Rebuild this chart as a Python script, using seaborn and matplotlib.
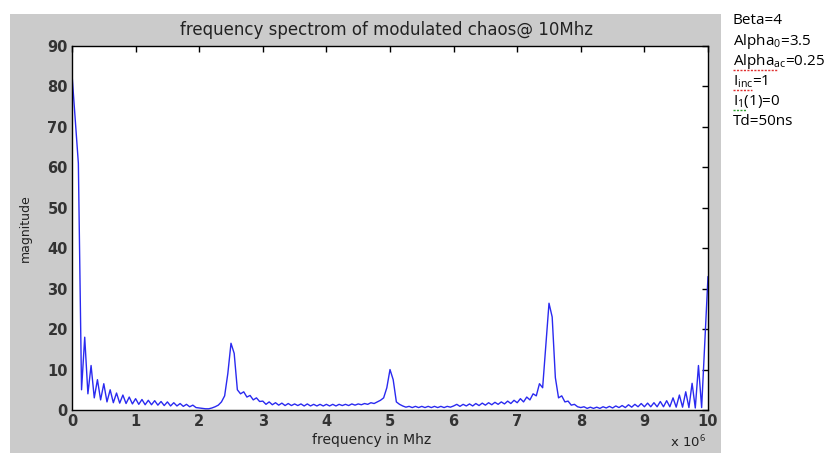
import numpy as np
import pandas as pd
import matplotlib
matplotlib.use("Agg")
import matplotlib.pyplot as plt
import seaborn as sns
from matplotlib.patches import Rectangle
from matplotlib.lines import Line2D

# ---- data (magnitude sampled every 0.05 MHz from 0 to 10 MHz) ----
mag_0_1 = [83, 72, 61, 5, 18, 4, 11, 3, 7.5, 2.5, 6.5, 2, 5, 1.8, 4.2, 1.7, 3.7, 1.6, 3.2, 1.5]
mag_1_2 = [2.8, 1.4, 2.6, 1.3, 2.4, 1.3, 2.3, 1.2, 2.1, 1.1, 2.0, 1.0, 1.8, 1.0, 1.6, 0.9, 1.4, 0.8, 1.2, 0.6]
mag_2_3 = [0.5, 0.4, 0.3, 0.3, 0.5, 0.8, 1.2, 2.0, 3.5, 9, 16.5, 14, 5, 4, 4.5, 3.2, 3.6, 2.5, 3.0, 2.1]
mag_3_4 = [2.2, 1.4, 2.0, 1.3, 1.8, 1.2, 1.7, 1.1, 1.6, 1.1, 1.5, 1.1, 1.5, 1.0, 1.5, 1.0, 1.4, 1.0, 1.4, 1.0]
mag_4_5 = [1.4, 1.0, 1.4, 1.0, 1.4, 1.1, 1.4, 1.1, 1.5, 1.2, 1.5, 1.3, 1.6, 1.4, 1.8, 1.6, 2.0, 2.4, 3.0, 5.5]
mag_5_6 = [10, 7.5, 2.0, 1.4, 1.0, 0.7, 0.9, 0.6, 0.9, 0.6, 0.9, 0.6, 0.9, 0.6, 0.9, 0.6, 0.9, 0.6, 0.9, 0.7]
mag_6_7 = [1.0, 1.4, 0.9, 1.4, 1.0, 1.5, 1.0, 1.6, 1.1, 1.7, 1.2, 1.8, 1.3, 1.9, 1.4, 2.0, 1.5, 2.2, 1.6, 2.4]
mag_7_8 = [1.8, 2.8, 2.0, 3.2, 2.5, 4.0, 3.5, 6.5, 5.5, 16, 26.4, 23, 8, 3.0, 3.5, 2.0, 2.2, 1.2, 1.4, 0.8]
mag_8_9 = [0.6, 0.8, 0.4, 0.7, 0.4, 0.7, 0.4, 0.8, 0.5, 0.9, 0.5, 1.0, 0.6, 1.1, 0.6, 1.3, 0.7, 1.4, 0.8, 1.6]
mag_9_10 = [0.8, 1.7, 0.8, 1.8, 0.8, 2.1, 0.8, 2.3, 0.8, 3.0, 0.7, 3.7, 0.7, 4.5, 0.6, 6.6, 0.5, 11, 0.6, 17, 33]

magnitude = (mag_0_1 + mag_1_2 + mag_2_3 + mag_3_4 + mag_4_5 +
             mag_5_6 + mag_6_7 + mag_7_8 + mag_8_9 + mag_9_10)
freq_step_mhz = 0.05
freq_mhz = np.round(np.arange(len(magnitude)) * freq_step_mhz, 2)

x_ticks = list(range(0, 11))
y_ticks = list(range(0, 91, 10))

title = "frequency spectrom of modulated chaos@ 10Mhz"
x_label = "frequency in Mhz"
y_label = "magnitude"
params = ["Beta=4", "Alpha$_0$=3.5", "Alpha$_{ac}$=0.25", "I$_{inc}$=1", "I$_1$(1)=0", "Td=50ns"]

df = pd.DataFrame({"freq": freq_mhz, "mag": magnitude})

# ---- style ----
sns.set_theme(style="white")
plt.rcParams["font.family"] = ["DejaVu Sans"]
plt.rcParams["mathtext.fontset"] = "custom"
plt.rcParams["mathtext.rm"] = "Open Sans"
plt.rcParams["mathtext.default"] = "rm"

W, H = 832, 453
fig = plt.figure(figsize=(W / 100, H / 100), dpi=100, facecolor="white")
fig.add_artist(Rectangle((10 / W, 0), (721 - 10) / W, (H - 14) / H,
                         transform=fig.transFigure, facecolor="#cbcbcb",
                         edgecolor="none", zorder=0))

ax = fig.add_axes([72 / W, 43 / H, 636 / W, 364 / H])
ax.set_facecolor("white")
sns.lineplot(data=df, x="freq", y="mag", ax=ax, color="#2a2af0",
             linewidth=1.0, estimator=None, sort=False)

ax.set_xlim(0, 10)
ax.set_ylim(0, 90)
ax.set_xticks(x_ticks)
ax.set_yticks(y_ticks)
ax.tick_params(direction="in", length=4, width=1, top=True, right=True,
               colors="black", labelcolor="#333333", labelsize=10.5, pad=3)
for lab in ax.get_xticklabels() + ax.get_yticklabels():
    lab.set_fontweight("bold")
for s in ax.spines.values():
    s.set_color("black")
    s.set_linewidth(1)

ax.set_xlabel(x_label, fontsize=10, color="#222222", va="center", ha="center")
ax.xaxis.set_label_coords((372 - 72) / 636, (410 - 440) / 364)
ax.set_ylabel(y_label, fontsize=9, color="#222222", va="center", ha="center")
ax.yaxis.set_label_coords((25 - 72) / 636, 0.5)

fig.text(386 / W, 1 - 30 / H, title, ha="center", va="center",
         fontsize=12, color="#222222")
fig.text(706 / W, 1 - 442 / H, r"x 10$^{6}$", ha="right", va="center",
         fontsize=9.5, color="#222222", family="DejaVu Sans")

ys = [20, 41.7, 61.7, 81.7, 101.7, 121.7]
for t, y in zip(params, ys):
    fig.text(733 / W, 1 - y / H, t, ha="left", va="center", fontsize=11,
             family="Open Sans", color="black")

# spell-check style underlines under some parameter names
for (x0, x1, y, c) in [(733, 777, 70, "#e03030"), (733, 752, 90, "#e03030"),
                       (733, 746, 110, "#30a030")]:
    fig.add_artist(Line2D([x0 / W, x1 / W], [1 - y / H, 1 - y / H],
                          transform=fig.transFigure, color=c, lw=1,
                          linestyle=(0, (1.5, 1))))

fig.savefig("out.png", dpi=100, facecolor=fig.get_facecolor())
